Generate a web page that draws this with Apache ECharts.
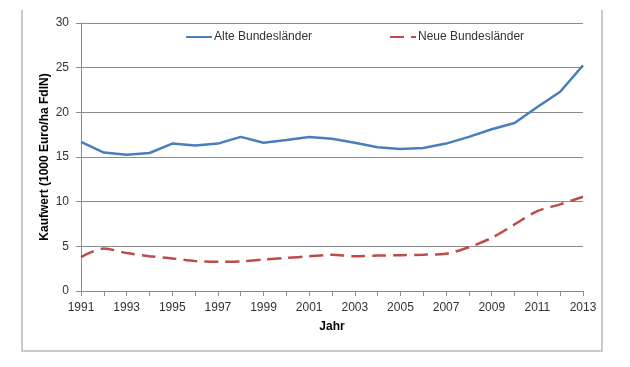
<!DOCTYPE html>
<html>
<head>
<meta charset="utf-8">
<script src="https://cdn.jsdelivr.net/npm/echarts@6/dist/echarts.min.js"></script>
<style>
html,body{margin:0;padding:0;background:#fff;}
#chart{width:630px;height:367px;}
</style>
</head>
<body>
<div id="chart"></div>
<script>
const years = ['1991','1992','1993','1994','1995','1996','1997','1998','1999','2000','2001','2002','2003','2004','2005','2006','2007','2008','2009','2010','2011','2012','2013'];
const alteBundeslaender = [16.7,15.5,15.25,15.45,16.5,16.3,16.5,17.25,16.6,16.9,17.25,17.05,16.6,16.1,15.9,16.0,16.5,17.25,18.1,18.8,20.6,22.3,25.25];
const neueBundeslaender = [3.8,4.75,4.25,3.9,3.65,3.35,3.28,3.32,3.52,3.7,3.88,4.05,3.88,3.97,4.0,4.07,4.18,4.9,5.95,7.45,8.95,9.7,10.55];
const yTicks = {min:0, max:30, interval:5};
const seriesNames = ['Alte Bundesländer','Neue Bundesländer'];
const yName = 'Kaufwert (1000 Euro/ha FdlN)';
const xName = 'Jahr';

const font = 'Liberation Sans';
const gridColor = '#8c8c8c';
const legendCommon = {itemWidth:26, itemHeight:12, itemGap:2, itemStyle:{opacity:0, borderWidth:0},
  textStyle:{fontFamily:font, fontSize:12, color:'#333', padding:[0,0,0,-3]}};
const chart = echarts.init(document.getElementById('chart'), null, {renderer:'canvas'});
chart.setOption({
  animation:false,
  backgroundColor:'#ffffff',
  textStyle:{fontFamily:font},
  grid:{left:81, right:47, top:23, bottom:76, containLabel:false},
  legend:[
    Object.assign({data:[seriesNames[0]], left:180, top:26}, legendCommon),
    Object.assign({data:[seriesNames[1]], left:384, top:26}, legendCommon)
  ],
  xAxis:{
    type:'category', data:years, boundaryGap:false,
    name:xName, nameLocation:'middle', nameGap:30, nameMoveOverlap:false,
    nameTextStyle:{fontFamily:font, fontSize:12, fontWeight:'bold', color:'#000'},
    axisLine:{show:true, lineStyle:{color:gridColor, width:1}},
    axisTick:{show:true, interval:0, length:5, lineStyle:{color:gridColor}},
    axisLabel:{interval:1, margin:11, fontFamily:font, fontSize:12, color:'#333'},
    splitLine:{show:false}
  },
  yAxis:{
    type:'value', min:yTicks.min, max:yTicks.max, interval:yTicks.interval,
    name:yName, nameLocation:'middle', nameGap:30, nameRotate:90, nameMoveOverlap:false,
    nameTextStyle:{fontFamily:font, fontSize:12, fontWeight:'bold', color:'#000'},
    axisLine:{show:true, lineStyle:{color:gridColor, width:1}},
    axisTick:{show:true, length:5, lineStyle:{color:gridColor}},
    axisLabel:{margin:12, fontFamily:font, fontSize:12, color:'#333'},
    splitLine:{show:true, lineStyle:{color:gridColor, width:1}}
  },
  series:[
    {name:seriesNames[0], type:'line', data:alteBundeslaender, showSymbol:false, symbol:'none',
     lineStyle:{color:'#4a7ebb', width:2.5}, itemStyle:{color:'#4a7ebb'}},
    {name:seriesNames[1], type:'line', data:neueBundeslaender, showSymbol:false, symbol:'none', smooth:0.3,
     lineStyle:{color:'#be4b48', width:2.5, type:[14,7]}, itemStyle:{color:'#be4b48'}}
  ],
  graphic:[
    {type:'polyline', silent:true, shape:{points:[[22,10],[22,351],[602,351],[602,10]]},
     style:{stroke:'#b8b8b8', lineWidth:1.5, fill:null}}
  ]
});
</script>
</body>
</html>
